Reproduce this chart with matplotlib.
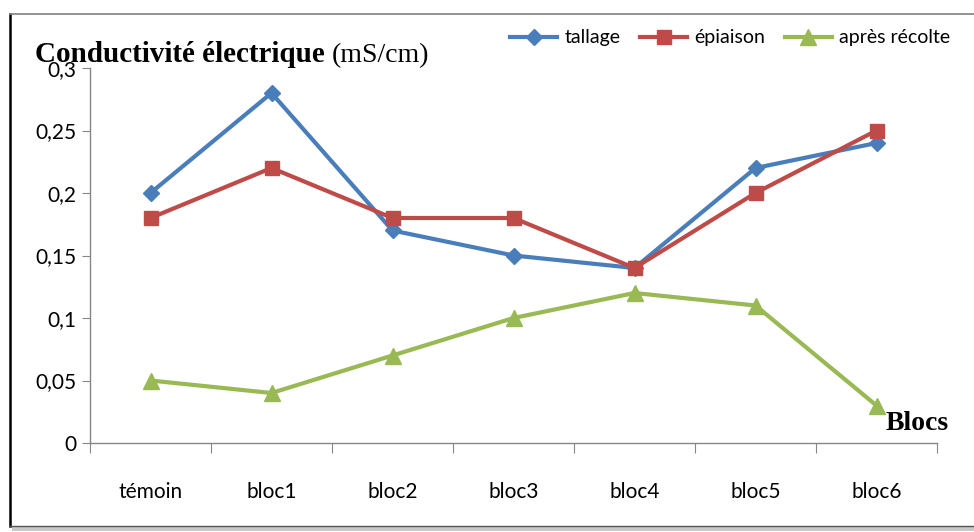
import matplotlib.pyplot as plt
from matplotlib.patches import Rectangle
from matplotlib.lines import Line2D
from matplotlib.ticker import FuncFormatter

# data
blocs = ['témoin', 'bloc1', 'bloc2', 'bloc3', 'bloc4', 'bloc5', 'bloc6']
tallage = [0.20, 0.28, 0.17, 0.15, 0.14, 0.22, 0.24]
epiaison = [0.18, 0.22, 0.18, 0.18, 0.14, 0.20, 0.25]
apres_recolte = [0.05, 0.04, 0.07, 0.10, 0.12, 0.11, 0.03]
series_names = ['tallage', 'épiaison', 'après récolte']
y_ticks = [0, 0.05, 0.1, 0.15, 0.2, 0.25, 0.3]

W, H = 974, 532
fig = plt.figure(figsize=(W / 100, H / 100), dpi=100)
fig.patch.set_facecolor('white')

# outer frame with a little shadow, like the pasted word chart
fig.add_artist(Rectangle((12 / W, 1 - 531 / H), 970 / W, 4 / H,
                         transform=fig.transFigure, color='#c8c8c8', lw=0))
fig.add_artist(Line2D([10 / W, 10 / W], [1 - 14 / H, 1 - 526 / H],
                      transform=fig.transFigure, color='black', lw=1.8))
fig.add_artist(Line2D([10 / W, 1], [1 - 14 / H, 1 - 14 / H],
                      transform=fig.transFigure, color='#808080', lw=1.2))
fig.add_artist(Line2D([10 / W, 1], [1 - 526 / H, 1 - 526 / H],
                      transform=fig.transFigure, color='#555555', lw=1.0))

ax = fig.add_axes([90 / W, 1 - 443 / H, (937 - 90) / W, (443 - 68) / H])
x = list(range(len(blocs)))

ax.plot(x, tallage, color='#4A7EBB', lw=3, marker='D', ms=8.5,
        label=series_names[0])
ax.plot(x, epiaison, color='#BE4B48', lw=3, marker='s', ms=10,
        label=series_names[1])
ax.plot(x, apres_recolte, color='#98B954', lw=3, marker='^', ms=11,
        label=series_names[2])

ax.set_xlim(-0.5, len(blocs) - 0.5)
ax.set_ylim(0, 0.3)
ax.set_yticks(y_ticks)
ax.yaxis.set_major_formatter(FuncFormatter(lambda v, p: ('%g' % v).replace('.', ',')))
ax.set_xticks([i - 0.5 for i in range(len(blocs) + 1)])
ax.set_xticklabels([])
ax.set_xticks(x, minor=True)
ax.set_xticklabels(blocs, minor=True)
ax.tick_params(axis='x', which='minor', length=0, pad=28, labelsize=15)
ax.tick_params(axis='x', which='major', length=7, color='#868686')
ax.tick_params(axis='y', length=6, color='#868686', labelsize=15, pad=4)
for lab in ax.get_xticklabels(minor=True) + ax.get_yticklabels():
    lab.set_fontfamily(['Lato', 'DejaVu Sans'])

for s in ['top', 'right']:
    ax.spines[s].set_visible(False)
for s in ['left', 'bottom']:
    ax.spines[s].set_color('#868686')
    ax.spines[s].set_linewidth(1.0)

fig.text(35 / W, 1 - 62 / H, 'Conductivité électrique', family='Liberation Serif',
         weight='bold', size=21, va='baseline')
fig.text(332 / W, 1 - 62 / H, '(mS/cm)', family='Liberation Serif',
         size=20, va='baseline')
fig.text(886 / W, 1 - 430 / H, 'Blocs', family='Liberation Serif',
         weight='bold', size=20, va='baseline')

fig.legend(loc='center right', bbox_to_anchor=(968 / W, 1 - 38 / H), ncol=3,
           frameon=False, prop={'family': ['Lato', 'DejaVu Sans'], 'size': 14},
           handlelength=2.4, columnspacing=1.0, handletextpad=0.4)

fig.savefig('out.png', dpi=100)
